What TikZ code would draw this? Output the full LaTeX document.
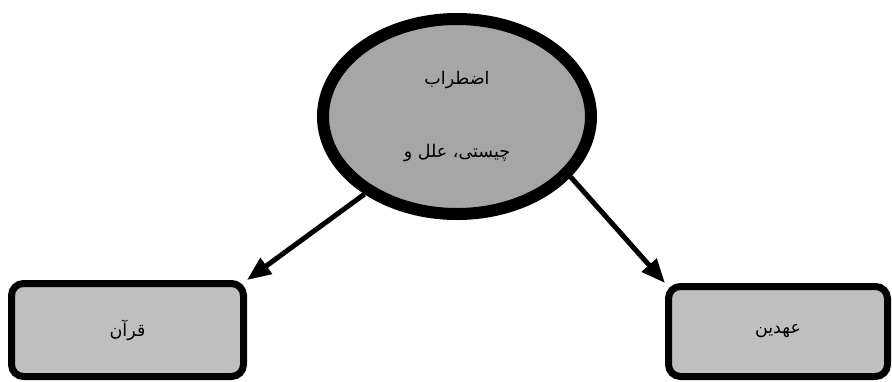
\documentclass[tikz,border=0pt]{standalone}
\usepackage{fontspec}
\newfontfamily\arabicfont[Script=Arabic]{DejaVu Sans}
\TeXXeTstate=1
\usetikzlibrary{arrows.meta,shapes.geometric}
\definecolor{ellgray}{HTML}{A6A6A6}
\definecolor{boxgray}{HTML}{BFBFBF}

\begin{document}
\begin{tikzpicture}[x=1pt, y=-1pt,
  >={Triangle[length=24pt,width=19pt]},
  fa/.style={font=\arabicfont\fontsize{17.5}{21}\selectfont},
  topic/.style={ellipse, draw, line width=12pt, fill=ellgray, minimum width=268pt, minimum height=195pt, inner sep=0pt, align=center, fa},
  source/.style={rectangle, draw, line width=7pt, rounded corners=12pt, fill=boxgray, inner sep=0pt, fa},
  link/.style={->, line width=5pt}]
  \useasboundingbox (0,0) rectangle (892,381);
  \node[topic] (ell) at (457,116.5) {\beginR اضطراب\endR\\[52pt]\beginR چیستی، علل و\endR};
  \node[source, minimum width=232pt, minimum height=93pt] (quran) at (127.5,330) {\raisebox{4pt}{\beginR قرآن\endR}};
  \node[source, minimum width=219pt, minimum height=90pt] (ehden) at (778,331.5) {\raisebox{2pt}{\beginR عهدین\endR}};
  \draw[link] (ell.220) -- (quran.north east);
  \draw[link] (ell.-28) -- (ehden.north west);
\end{tikzpicture}
\end{document}
